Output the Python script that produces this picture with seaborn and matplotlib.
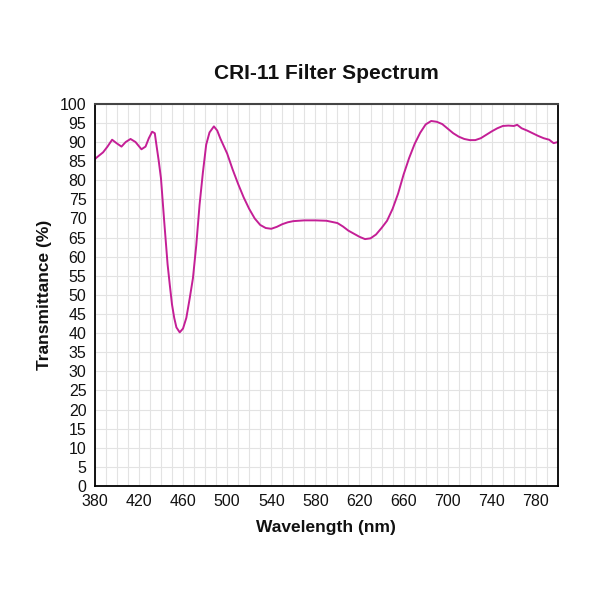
import pandas as pd
import matplotlib
matplotlib.use("Agg")
import matplotlib.pyplot as plt
import seaborn as sns
from matplotlib.ticker import MultipleLocator

# values
wavelength = [380, 381.5, 387.5, 391.5, 395.7, 399.7, 404.2, 408, 412.4, 416.9,
              422.3, 426, 429, 432, 434.4, 436, 438, 440, 443, 446, 448, 450,
              452, 454, 457, 460, 463, 466, 469, 472, 475, 478, 481, 484, 488,
              491, 494, 500, 505, 510, 515, 520, 525, 530, 535, 540, 545, 550,
              555, 560, 570, 580, 590, 600, 605, 610, 615, 620, 625, 630, 635,
              640, 645, 650, 655, 660, 665, 670, 675, 680, 685, 690, 695, 700,
              705, 710, 715, 720, 725, 730, 735, 740, 745, 750, 755, 760, 763,
              767, 772, 777, 782, 787, 792, 796, 800]
transmittance = [85.5, 85.9, 87.3, 88.8, 90.6, 89.7, 88.8, 90.0, 90.8, 90.0,
                 88.1, 88.8, 91.0, 92.7, 92.3, 89.0, 85.0, 80.5, 69.0, 58.0, 52.6, 47.5,
                 44.0, 41.5, 40.2, 41.2, 44.0, 49.0, 54.4, 63.0, 73.6, 82.0, 89.3, 92.5, 94.1,
                 93.0, 90.8, 87.0, 82.8, 79.0, 75.5, 72.5, 70.0, 68.3, 67.5, 67.3, 67.8, 68.5,
                 69.0, 69.3, 69.5, 69.5, 69.4, 68.8, 67.9, 66.8, 66.0, 65.2, 64.6, 64.8, 65.8,
                 67.5, 69.4, 72.5, 76.5, 81.5, 85.8, 89.5, 92.4, 94.6, 95.5, 95.3, 94.7, 93.5,
                 92.3, 91.4, 90.8, 90.5, 90.5, 91.0, 91.9, 92.8, 93.6, 94.2, 94.3, 94.2, 94.5,
                 93.6, 93.0, 92.3, 91.6, 91.0, 90.6, 89.7, 90.0]

x_ticks = list(range(380, 800, 40))

df = pd.DataFrame({"wl": wavelength, "T": transmittance})

sns.set_style("white")
plt.rcParams["font.family"] = ["Liberation Sans", "DejaVu Sans"]
plt.rcParams["text.color"] = "#111111"
plt.rcParams["xtick.color"] = "#111111"
plt.rcParams["ytick.color"] = "#111111"
plt.rcParams["axes.labelcolor"] = "#111111"

fig = plt.figure(figsize=(6, 6), dpi=100)
ax = fig.add_axes([0.158, 0.19, 0.772, 0.637])

sns.lineplot(data=df, x="wl", y="T", ax=ax, color="#c41f96", linewidth=1.4)

ax.set_xlim(380, 800)
ax.set_ylim(0, 100)
ax.set_xticks(x_ticks)
ax.xaxis.set_minor_locator(MultipleLocator(10))
ax.yaxis.set_major_locator(MultipleLocator(5))
ax.grid(which="both", color="#e3e3e3", linewidth=0.8)
ax.set_axisbelow(True)
ax.tick_params(which="both", length=0, labelsize=11.5, pad=6)

for side in ["left", "bottom", "right"]:
    ax.spines[side].set_color("black")
    ax.spines[side].set_linewidth(1.3)
ax.spines["top"].set_color("#444444")
ax.spines["top"].set_linewidth(1.5)

ax.set_title("CRI-11 Filter Spectrum", fontsize=15, fontweight="bold", pad=18)
ax.set_xlabel("Wavelength (nm)", fontsize=12.5, fontweight="bold", labelpad=8)
ax.set_ylabel("Transmittance (%)", fontsize=12.5, fontweight="bold", labelpad=6)

fig.savefig("out.png", dpi=100)
